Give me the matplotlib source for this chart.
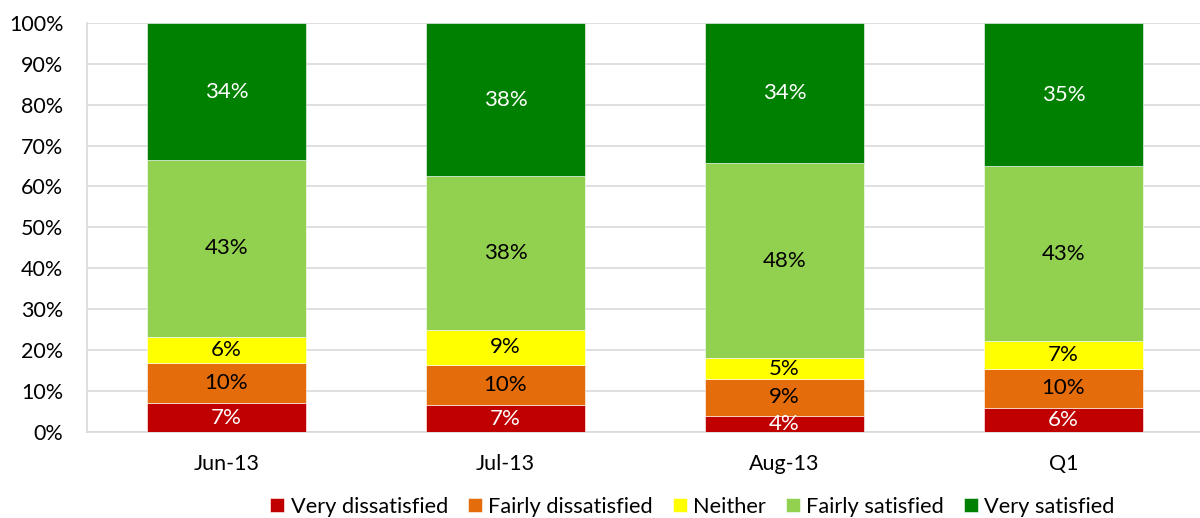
import numpy as np
import matplotlib
matplotlib.use("Agg")
import matplotlib.pyplot as plt
from matplotlib.ticker import PercentFormatter

# monthly satisfaction survey, share of responses (%)
periods = ["Jun-13", "Jul-13", "Aug-13", "Q1"]
very_dissatisfied = [7.0, 6.6, 4.0, 5.9]
fairly_dissatisfied = [9.9, 9.8, 9.0, 9.6]
neither = [6.4, 8.6, 5.0, 6.7]
fairly_satisfied = [43.1, 37.5, 47.8, 42.7]
very_satisfied = [33.6, 37.5, 34.2, 35.1]

series_names = ["Very dissatisfied", "Fairly dissatisfied", "Neither",
                "Fairly satisfied", "Very satisfied"]
series_colors = ["#C00000", "#E46C0A", "#FFFF00", "#92D050", "#008000"]
label_colors = ["white", "black", "black", "black", "white"]

plt.rcParams['font.family'] = ['Lato', 'DejaVu Sans']

fig = plt.figure(figsize=(12, 5.18), dpi=100)
ax = fig.add_axes([0.0725, 0.166, 0.93, 0.79])

data = [very_dissatisfied, fairly_dissatisfied, neither, fairly_satisfied, very_satisfied]
x = np.arange(len(periods))
bottom = np.zeros(len(periods))
for vals, name, col, tcol in zip(data, series_names, series_colors, label_colors):
    vals = np.array(vals)
    ax.bar(x, vals, width=0.57, bottom=bottom, color=col, label=name,
           edgecolor="white", linewidth=0.4, zorder=3)
    for xi, b, v in zip(x, bottom, vals):
        ax.text(xi, b + v / 2, '{:.0f}%'.format(v), ha="center", va="center",
                color=tcol, fontsize=16, zorder=4)
    bottom += vals

ax.set_xlim(-0.5, 3.5)
ax.set_ylim(0, 100)
ax.set_yticks(np.arange(0, 101, 10))
ax.yaxis.set_major_formatter(PercentFormatter(decimals=0))
ax.set_xticks(x)
ax.set_xticklabels(periods)
ax.tick_params(axis="both", length=0, labelsize=15.5, colors="black")
ax.tick_params(axis="x", pad=16)
ax.tick_params(axis="y", pad=17)

ax.grid(axis="y", color="#D9D9D9", linewidth=1.2, zorder=0)
ax.set_axisbelow(True)
for side in ["top", "right"]:
    ax.spines[side].set_visible(False)
for side in ["left", "bottom"]:
    ax.spines[side].set_color("#D9D9D9")
    ax.spines[side].set_linewidth(1.2)

fig.legend(loc="lower center", bbox_to_anchor=(0.577, -0.035), ncol=5, frameon=False,
           fontsize=15.7, handlelength=0.65, handleheight=0.65, handletextpad=0.3,
           columnspacing=0.9)

fig.savefig("out.png", dpi=100)
